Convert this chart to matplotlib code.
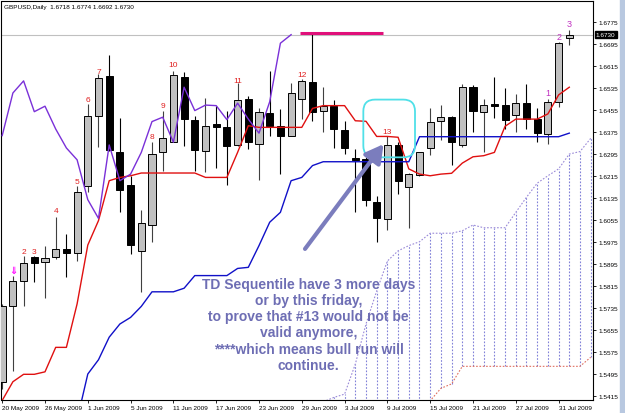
"""GBPUSD daily candles with Ichimoku lines and TD Sequential counts (MT4 style)."""

import matplotlib
matplotlib.use("Agg")
import matplotlib.pyplot as plt
import numpy as np
from matplotlib.patches import FancyBboxPatch, Rectangle

plt.rcParams["font.family"] = ["Liberation Sans", "DejaVu Sans"]

# ---- data ----------------------------------------------------------------
tick_bars = [0, 4, 8, 12, 16, 20, 24, 28, 32, 36, 40, 44, 48, 52]
tick_dates = ["20 May 2009", "26 May 2009", "1 Jun 2009", "5 Jun 2009", "11 Jun 2009",
              "17 Jun 2009", "23 Jun 2009", "29 Jun 2009", "3 Jul 2009", "9 Jul 2009",
              "15 Jul 2009", "21 Jul 2009", "27 Jul 2009", "31 Jul 2009"]

opens = [1.5468, 1.5745, 1.5835, 1.5922, 1.5902, 1.5920, 1.5951, 1.5935, 1.6179, 1.6435,
         1.6579, 1.6302, 1.6183, 1.5942, 1.6038, 1.6302, 1.6341, 1.6575, 1.6420, 1.6306,
         1.6404, 1.6393, 1.6330, 1.6496, 1.6331, 1.6444, 1.6399, 1.6363, 1.6496, 1.6557,
         1.6451, 1.6472, 1.6383, 1.6281, 1.6278, 1.6122, 1.6060, 1.6329, 1.6177, 1.6221,
         1.6318, 1.6415, 1.6430, 1.6330, 1.6539, 1.6450, 1.6477, 1.6474, 1.6439, 1.6481,
         1.6423, 1.6369, 1.6486, 1.6718]
highs = [1.5752, 1.5854, 1.5924, 1.5926, 1.5960, 1.6067, 1.6005, 1.6181, 1.6478, 1.6587,
         1.6656, 1.6426, 1.6217, 1.6094, 1.6339, 1.6454, 1.6599, 1.6593, 1.6435, 1.6499,
         1.6470, 1.6454, 1.6553, 1.6506, 1.6462, 1.6599, 1.6460, 1.6553, 1.6569, 1.6732,
         1.6539, 1.6494, 1.6417, 1.6314, 1.6285, 1.6143, 1.6363, 1.6340, 1.6227, 1.6304,
         1.6462, 1.6474, 1.6435, 1.6551, 1.6547, 1.6496, 1.6577, 1.6535, 1.6514, 1.6551,
         1.6462, 1.6496, 1.6702, 1.6748]
lows = [1.5442, 1.5508, 1.5745, 1.5830, 1.5771, 1.5914, 1.5848, 1.5908, 1.6157, 1.6320,
        1.6308, 1.6086, 1.5932, 1.5795, 1.5977, 1.6235, 1.6339, 1.6326, 1.6235, 1.6230,
        1.6245, 1.6184, 1.6326, 1.6314, 1.6203, 1.6363, 1.6223, 1.6360, 1.6423, 1.6417,
        1.6377, 1.6318, 1.6296, 1.6086, 1.6107, 1.5976, 1.6021, 1.6151, 1.6026, 1.6216,
        1.6293, 1.6348, 1.6257, 1.6320, 1.6375, 1.6305, 1.6426, 1.6387, 1.6375, 1.6387,
        1.6339, 1.6332, 1.6466, 1.6692]
closes = [1.5745, 1.5833, 1.5899, 1.5899, 1.5917, 1.5951, 1.5936, 1.6157, 1.6433, 1.6571,
          1.6312, 1.6166, 1.5966, 1.6044, 1.6296, 1.6353, 1.6583, 1.6423, 1.6312, 1.6399,
          1.6393, 1.6326, 1.6492, 1.6341, 1.6448, 1.6399, 1.6363, 1.6518, 1.6562, 1.6450,
          1.6470, 1.6387, 1.6318, 1.6275, 1.6130, 1.6062, 1.6329, 1.6199, 1.6223, 1.6302,
          1.6414, 1.6430, 1.6339, 1.6539, 1.6454, 1.6474, 1.6472, 1.6421, 1.6481, 1.6423,
          1.6372, 1.6486, 1.6699, 1.6730]

tenkan = [1.5400, 1.5468, 1.5495, 1.5495, 1.5504, 1.5593, 1.5593, 1.5751, 1.5965, 1.6054,
          1.6199, 1.6211, 1.6217, 1.6227, 1.6227, 1.6227, 1.6227, 1.6227, 1.6227, 1.6211,
          1.6211, 1.6211, 1.6302, 1.6399, 1.6393, 1.6393, 1.6393, 1.6393, 1.6393, 1.6462,
          1.6472, 1.6472, 1.6472, 1.6417, 1.6415, 1.6360, 1.6360, 1.6357, 1.6242, 1.6223,
          1.6217, 1.6223, 1.6226, 1.6263, 1.6286, 1.6290, 1.6302, 1.6397, 1.6423, 1.6423,
          1.6423, 1.6442, 1.6511, 1.6539]
nan = float("nan")
kijun = [nan, nan, nan, nan, nan, nan, nan, 1.5329, 1.5496, 1.5548,
         1.5630, 1.5678, 1.5702, 1.5742, 1.5795, 1.5795, 1.5795, 1.5808, 1.5854, 1.5854,
         1.5854, 1.5854, 1.5880, 1.5884, 1.5963, 1.6048, 1.6084, 1.6199, 1.6211, 1.6254,
         1.6268, 1.6268, 1.6268, 1.6268, 1.6268, 1.6268, 1.6268, 1.6268, 1.6268, 1.6359,
         1.6359, 1.6359, 1.6359, 1.6359, 1.6359, 1.6359, 1.6359, 1.6359, 1.6359, 1.6359,
         1.6359, 1.6359, 1.6359, 1.6372]
CHIKOU_SHIFT = 26  # lagging span = close plotted 26 bars back

span_start = 30
span_a = [1.5395, 1.5411, 1.5423, 1.5532, 1.5678, 1.5798, 1.5907, 1.5944, 1.5963, 1.5977,
          1.6008, 1.6008, 1.6008, 1.6017, 1.6038, 1.6028, 1.6028, 1.6028, 1.6084, 1.6139,
          1.6190, 1.6217, 1.6242, 1.6296, 1.6305, 1.6353]
span_b = [1.5385, 1.5385, 1.5385, 1.5385, 1.5385, 1.5385, 1.5385, 1.5385, 1.5385, 1.5385,
          1.5399, 1.5444, 1.5460, 1.5524, 1.5524, 1.5524, 1.5524, 1.5524, 1.5524, 1.5524,
          1.5524, 1.5524, 1.5524, 1.5524, 1.5524, 1.5557]

td_bars = [2, 3, 5, 7, 8, 9, 14, 15, 16, 22, 28, 36]
td_text = ["2", "3", "4", "5", "6", "7", "8", "9", "10", "11", "12", "13"]
td_price = [1.5943, 1.5941, 1.6089, 1.6195, 1.6496, 1.6595, 1.6360, 1.6474, 1.6623,
            1.6562, 1.6587, 1.6377]
td2_bars = [51, 52, 53]
td2_text = ["1", "2", "3"]
td2_price = [1.6520, 1.6724, 1.6769]

price_ticks = [1.5415, 1.5495, 1.5575, 1.5655, 1.5735, 1.5815, 1.5895, 1.5975, 1.6055,
               1.6135, 1.6215, 1.6295, 1.6375, 1.6455, 1.6535, 1.6615, 1.6695, 1.6775]

note = ("TD Sequentile have 3 more days\nor by this friday,\n"
        "to prove that #13 would not be\nvalid anymore,\n"
        "****which means bull run will\ncontinue.")

# ---- figure ----------------------------------------------------------------
W, H = 625, 414
fig = plt.figure(figsize=(W / 100, H / 100), dpi=100)
ax = fig.add_axes([1.5 / W, 1 - 400.5 / H, 591.5 / W, 398.5 / H])
ax.set_xlim(-0.065, 55.215)
ax.set_ylim(1.54034, 1.68525)

bars = np.arange(len(closes))
o, h, l, c = (np.asarray(v) for v in (opens, highs, lows, closes))
up = c >= o

# current price line
ax.axhline(closes[-1], color="#C0C0C0", lw=0.8, zorder=1)

# cloud (spans shifted forward)
sb = np.arange(span_start, span_start + len(span_a))
sa, sbv = np.asarray(span_a), np.asarray(span_b)
ax.vlines(sb, sbv, sa, colors="#8080D8", lw=0.8, linestyles=(0, (1.5, 1.5)), zorder=1)
ax.plot(sb, sa, color="#9A8AD8", lw=0.8, ls=(0, (1.5, 1.5)), zorder=1)
ax.plot(sb, sbv, color="#E07060", lw=0.8, ls=(0, (1.5, 1.5)), zorder=1)

# candles
ax.vlines(bars, l, h, colors=np.where(up, "#404040", "black"), lw=0.8, zorder=2)
for i in bars:
    lo_, hi_ = min(o[i], c[i]), max(o[i], c[i])
    ax.add_patch(Rectangle((i - 0.33, lo_), 0.66, max(hi_ - lo_, 0.00006),
                           facecolor="#C0C0C0" if up[i] else "black",
                           edgecolor="black", lw=0.7, zorder=3))

# ichimoku lines
ax.plot(bars, tenkan, color="#E01010", lw=1.0, zorder=4)
ax.plot(bars, kijun, color="#1010C8", lw=1.0, zorder=4)
chikou = closes[CHIKOU_SHIFT:]
ax.plot(bars[:len(chikou)], chikou, color="#7A30D8", lw=1.0, zorder=4)

# TD sequential counts
for b, t, p in zip(td_bars, td_text, td_price):
    ax.text(b, p, t, color="#E02020", fontsize=6, ha="center", va="center", zorder=5)
for b, t, p in zip(td2_bars, td2_text, td2_price):
    ax.text(b, p, t, color="#C030C0", fontsize=6.5, ha="center", va="center", zorder=5)
ax.text(1, 1.5874, "\u21d3", color="#FF00FF", fontsize=7, ha="center", va="center",
        fontweight="bold", family=["DejaVu Sans"], zorder=5)

# annotations drawn on the chart
ax.plot([27.83, 35.59], [1.6735, 1.6735], color="#E0107A", lw=2.2, solid_capstyle="butt", zorder=6)
ax.add_patch(FancyBboxPatch((33.75, 1.6284), 4.83, 0.0210,
                            boxstyle="round,pad=0,rounding_size=1.1",
                            mutation_aspect=0.00389, fill=False,
                            edgecolor="#50E0E8", lw=1.3, zorder=6))
ax.annotate("", xy=(35.64, 1.6332), xytext=(28.3, 1.5951),
            arrowprops=dict(arrowstyle="-|>,head_length=0.9,head_width=0.5",
                            color="#7B7DBD", lw=3, mutation_scale=12,
                            shrinkA=0, shrinkB=0), zorder=6)
ax.text(28.63, 1.5677, note, ha="center", va="center", fontsize=10,
        fontweight="bold", color="#6E6EB4", linespacing=1.2, zorder=6)

# axes styling
ax.yaxis.tick_right()
ax.set_yticks(price_ticks)
ax.set_yticklabels([f"{p:.4f}" for p in price_ticks])
ax.set_xticks(tick_bars)
ax.set_xticklabels(tick_dates, ha="left")
ax.tick_params(axis="both", labelsize=4.6, length=2.5, width=0.6, pad=1.5, colors="black")
for s in ax.spines.values():
    s.set_linewidth(0.8)
ax.text(1.005, closes[-1], f"{closes[-1]:.4f}", transform=ax.get_yaxis_transform(),
        fontsize=4.6, color="white", va="center", ha="left",
        bbox=dict(boxstyle="square,pad=0.15", fc="black", ec="black"))

fig.text(4 / W, 1 - 7 / H, "GBPUSD,Daily  1.6718 1.6774 1.6692 1.6730",
         fontsize=4.6, va="center", ha="left")
fig.patches.append(Rectangle((620 / W, 0), 5 / W, 1, transform=fig.transFigure,
                             color="#B8C8E0", zorder=0))

fig.savefig("out.png", dpi=100)
